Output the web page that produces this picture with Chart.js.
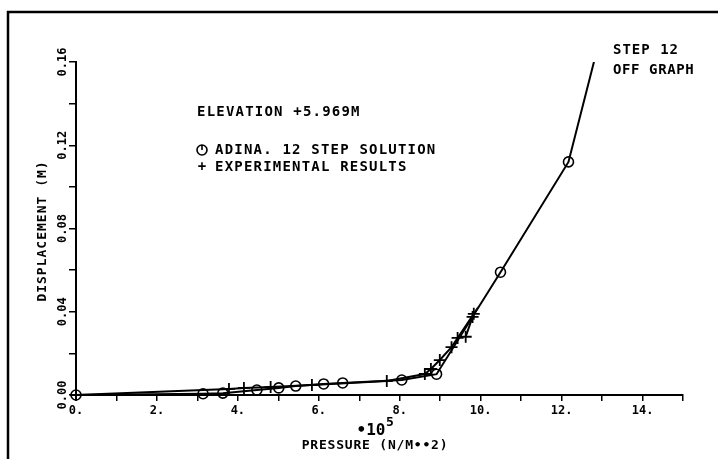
<!DOCTYPE html>
<html>
<head>
<meta charset="utf-8">
<script src="https://cdn.jsdelivr.net/npm/chart.js@4"></script>
<style>
  html, body { margin: 0; padding: 0; background: #fff; }
  #wrap { width: 718px; height: 459px; position: relative; }
</style>
</head>
<body>
<div id="wrap"><canvas id="chart" width="718" height="459"></canvas></div>
<script>
// ADINA 12 step solution (pressure in 1e5 N/m^2, displacement in m)
const adinaPressure = [0, 3.14, 3.63, 4.47, 5.01, 5.43, 6.12, 6.59, 8.05, 8.91, 10.49, 12.17, 13.1];
const adinaDisp     = [0, 0.0006, 0.0009, 0.0024, 0.0034, 0.0043, 0.0053, 0.0058, 0.0072, 0.0100, 0.0590, 0.1120, 0.1830];

// experimental results
const expPressure = [0, 3.78, 4.15, 4.81, 5.83, 7.68, 8.62, 8.77, 8.99, 9.28, 9.43, 9.83, 9.80, 9.63];
const expDisp     = [0, 0.0029, 0.0034, 0.0038, 0.0048, 0.0067, 0.0101, 0.0125, 0.0168, 0.0230, 0.0274, 0.0390, 0.0375, 0.0280];

const xTicks = [0, 2, 4, 6, 8, 10, 12, 14];
const yTicks = [0, 0.04, 0.08, 0.12, 0.16];

const FONT = "'DejaVu Sans Mono', monospace";

function toPoints(xs, ys) {
  return xs.map((x, i) => ({ x: x, y: ys[i] }));
}

function txt(ctx, s, x, y, size, spacing, align) {
  ctx.font = "bold " + size + "px " + FONT;
  ctx.letterSpacing = (spacing || 0) + "px";
  ctx.textAlign = align || "left";
  ctx.textBaseline = "middle";
  ctx.fillText(s, x, y);
}

// frame, y tick labels and notes
const decor = {
  id: "decor",
  beforeDraw(chart) {
    const ctx = chart.ctx;
    ctx.save();
    ctx.fillStyle = "#fff";
    ctx.fillRect(0, 0, chart.width, chart.height);
    ctx.strokeStyle = "#000";
    ctx.lineWidth = 2.5;
    ctx.beginPath();
    ctx.moveTo(718, 12);
    ctx.lineTo(8, 12);
    ctx.lineTo(8, 459);
    ctx.stroke();
    ctx.restore();
  },
  afterDraw(chart) {
    const ctx = chart.ctx;
    const ys = chart.scales.y;
    ctx.save();
    ctx.fillStyle = "#000";

    // y tick labels, rotated
    yTicks.forEach(v => {
      const py = ys.getPixelForValue(v);
      ctx.save();
      ctx.translate(63, py);
      ctx.rotate(-Math.PI / 2);
      txt(ctx, v.toFixed(2), 0, 0, 12, 0, "center");
      ctx.restore();
    });

    // y title
    ctx.save();
    ctx.translate(43, 231);
    ctx.rotate(-Math.PI / 2);
    txt(ctx, "DISPLACEMENT (M)", 0, 0, 13, 1, "center");
    ctx.restore();

    // x title
    txt(ctx, "\u202210", 371, 431, 16, 0, "center");
    txt(ctx, "5", 386, 423, 13, 0, "left");
    txt(ctx, "PRESSURE (N/M\u2022\u20222)", 375, 446, 13, 0.8, "center");

    // notes
    txt(ctx, "ELEVATION +5.969M", 197, 112, 14, 1.2);
    ctx.strokeStyle = "#000";
    ctx.lineWidth = 1.6;
    ctx.beginPath();
    ctx.arc(202, 150, 5, 0, Math.PI * 2);
    ctx.moveTo(202, 145);
    ctx.lineTo(202, 150);
    ctx.stroke();
    txt(ctx, "ADINA. 12 STEP SOLUTION", 215, 150, 14, 1.2);
    txt(ctx, "+", 202, 167, 14, 0, "center");
    txt(ctx, "EXPERIMENTAL RESULTS", 215, 167, 14, 1.2);

    txt(ctx, "STEP 12", 613, 50, 14, 1);
    txt(ctx, "OFF GRAPH", 613, 70, 14, 0.6);
    ctx.restore();
  }
};

new Chart(document.getElementById("chart"), {
  type: "scatter",
  data: {
    datasets: [
      {
        label: "ADINA. 12 STEP SOLUTION",
        data: toPoints(adinaPressure, adinaDisp),
        showLine: true,
        borderColor: "#000",
        borderWidth: 2,
        pointStyle: "circle",
        pointRadius: 5,
        pointBorderWidth: 1.6,
        pointBorderColor: "#000",
        pointBackgroundColor: "rgba(255,255,255,0)",
        clip: { left: 10, bottom: 10, top: 0, right: 0 }
      },
      {
        label: "EXPERIMENTAL RESULTS",
        data: toPoints(expPressure, expDisp),
        showLine: true,
        borderColor: "#000",
        borderWidth: 2,
        pointStyle: "cross",
        pointRadius: 6,
        pointBorderWidth: 1.8,
        pointBorderColor: "#000",
        clip: { left: 10, bottom: 10, top: 0, right: 0 }
      }
    ]
  },
  options: {
    responsive: false,
    animation: false,
    events: [],
    layout: { padding: { top: 62, right: 35, left: 0, bottom: 0 } },
    plugins: {
      legend: { display: false },
      tooltip: { enabled: false }
    },
    scales: {
      x: {
        type: "linear",
        min: 0,
        max: 15,
        afterFit: s => { s.height = 64; },
        border: { display: true, color: "#000", width: 2 },
        grid: { drawOnChartArea: false, drawTicks: true, tickLength: 6, color: "#000", lineWidth: 1.5 },
        ticks: {
          stepSize: 1,
          padding: 3,
          color: "#000",
          maxRotation: 0,
          autoSkip: false,
          font: { family: FONT, size: 12, weight: "bold" },
          callback: v => xTicks.includes(v) ? v + "." : ""
        }
      },
      y: {
        type: "linear",
        min: 0,
        max: 0.16,
        afterFit: s => { s.width = 76; },
        border: { display: true, color: "#000", width: 2 },
        grid: { drawOnChartArea: false, drawTicks: true, tickLength: 7, color: "#000", lineWidth: 1.5 },
        ticks: {
          stepSize: 0.02,
          autoSkip: false,
          color: "rgba(0,0,0,0)",
          font: { family: FONT, size: 12, weight: "bold" },
          callback: v => v.toFixed(2)
        }
      }
    }
  },
  plugins: [decor]
});
</script>
</body>
</html>
